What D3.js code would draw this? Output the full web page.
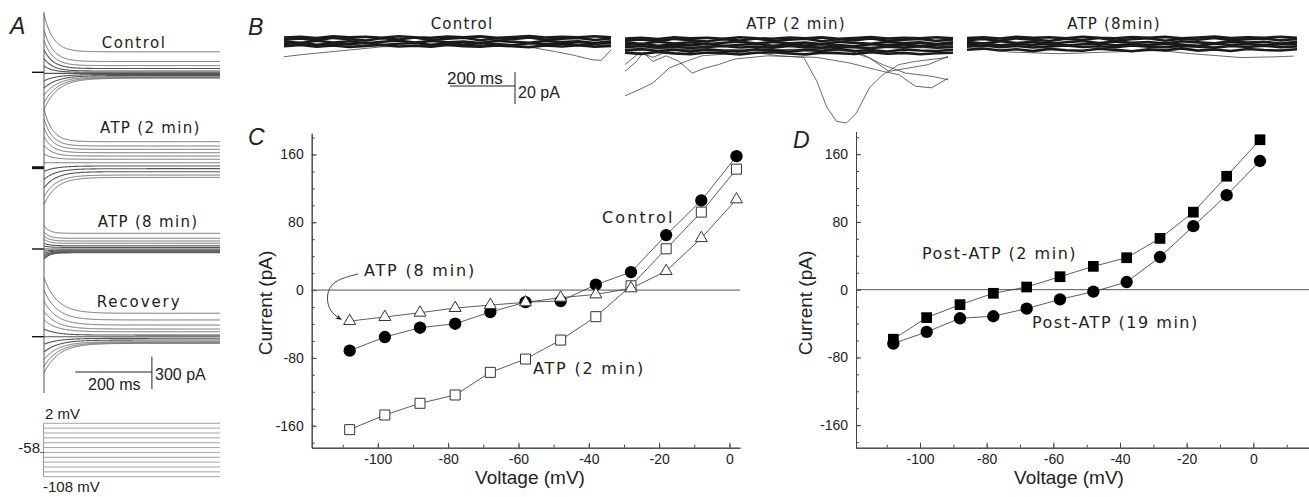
<!DOCTYPE html>
<html>
<head>
<meta charset="utf-8">
<script src="https://cdn.jsdelivr.net/npm/d3@7"></script>
<style>
  body { margin: 0; background: #fff; }
  svg { display: block; }
</style>
</head>
<body>
<svg id="fig" width="1309" height="497"></svg>
<script>
// ---------------- data ----------------
const voltages = [-108, -98, -88, -78, -68, -58, -48, -38, -28, -18, -8, 2];

// panel C (pA)
const controlI = [-71.5, -55.4, -44.4, -39.7, -25.9, -14.2, -13.0, 6.3, 21.2, 64.9, 105.7, 158.0];
const atp2I    = [-164.7, -147.4, -133.6, -123.8, -97.1, -81.4, -59.0, -31.4, 5.1, 48.7, 92.0, 142.7];
const atp8I    = [-36.6, -31.8, -26.7, -21.2, -17.7, -14.5, -9.0, -5.1, 2.0, 22.4, 61.3, 107.0];

// panel D (pA)
const post2I  = [-58.5, -33.0, -17.7, -4.3, 3.1, 15.3, 27.5, 37.7, 60.5, 91.5, 133.9, 177.0];
const post19I = [-63.6, -49.9, -33.8, -31.4, -22.4, -11.4, -2.4, 9.0, 38.5, 75.0, 111.5, 151.9];

// panel A : steady and peak currents (pA) for each step
const ctrlSteady = [-55, -48, -40, -30, -20, -10, 0, 12, 35, 62, 100, 190];
const ctrlPeak   = [-345, -280, -214, -146, -78, -10, 58, 128, 209, 294, 390, 538];
const atp2Steady = [-90, -68, -37, -9, 16, 46, 78, 108, 139, 170, 201, 241];
const atp2Peak   = [-340, -268, -187, -109, -34, 46, 128, 208, 289, 370, 451, 541];
const atp8Steady = [-35, -30, -25, -18, -10, 0, 15, 30, 53, 74, 99, 145];
const atp8Peak   = [-95, -78, -61, -42, -22, 0, 27, 54, 89, 122, 159, 217];
const recSteady  = [-62, -55, -46, -31, -15, 0, 15, 46, 71, 108, 155, 217];
const recPeak    = [-337, -275, -211, -141, -70, 0, 70, 156, 236, 328, 430, 547];

// panel B : band traces (pA every 50 ms)
const bandT = [0, 50, 100, 150, 200, 250, 300, 350, 400, 450, 500, 550, 600, 650, 700, 750, 800, 850, 900, 950, 1000];
const band1 = [1.5, 2.2, 1.0, 2.6, 1.8, 0.9, 2.4, 1.6, 2.8, 1.2, 2.0, 2.7, 1.1, 2.3, 1.7, 2.9, 1.4, 2.1, 2.6, 1.3, 2.2];
const band2 = [0.4, -0.6, 0.8, -0.3, 0.5, -0.8, 0.2, 0.9, -0.4, 0.6, -0.2, 0.3, -0.7, 0.8, 0.1, -0.5, 0.7, -0.1, 0.4, -0.6, 0.5];
const band3 = [-1.2, -0.5, -1.8, -0.9, -1.5, -0.4, -1.9, -1.1, -0.6, -1.7, -1.0, -1.6, -0.7, -1.3, -2.0, -0.8, -1.4, -0.9, -1.8, -1.1, -0.7];
const band4 = [-2.6, -1.9, -2.9, -2.2, -3.1, -2.4, -1.8, -2.8, -2.3, -3.0, -1.9, -2.6, -2.9, -2.1, -2.7, -3.2, -2.2, -2.8, -2.0, -2.9, -2.4];
const band5 = [2.8, 3.2, 2.5, 3.5, 2.9, 3.3, 2.6, 3.6, 3.0, 2.7, 3.4, 2.9, 3.5, 2.6, 3.1, 3.7, 2.8, 3.3, 3.0, 3.6, 2.9];
const band6 = [-4.5, -3.8, -5.0, -4.2, -5.4, -4.0, -4.8, -5.2, -3.9, -4.6, -5.5, -4.3, -4.9, -3.7, -5.1, -4.4, -5.3, -4.1, -4.7, -5.0, -4.2];
const band7 = [-6.0, -6.8, -5.6, -6.5, -7.0, -5.9, -6.3, -7.2, -6.1, -5.8, -6.6, -7.1, -6.0, -6.4, -6.9, -5.7, -6.7, -6.2, -7.0, -6.4, -6.1];

// panel B : deviating traces [ms, pA]
const ctrlDev = [[0, -9.2], [50, -8], [100, -7], [200, -5], [300, -3], [400, -2.5], [550, -2], [700, -2.5], [760, -3.5], [830, -6], [880, -8], [940, -11], [970, -11.5], [1000, -5]];
const atpDip  = [[0, -5], [200, -4], [400, -6], [470, -8], [545, -9], [585, -24], [615, -40], [645, -49], [675, -50], [705, -44], [745, -28], [785, -20], [835, -13.5], [885, -11.5], [985, -9]];
const atpDev1 = [[0, -33], [45, -29], [85, -25], [135, -15.6], [185, -11.5], [235, -8], [300, -7], [385, -5], [500, -4], [700, -3], [985, -3]];
const atpDev2 = [[0, -17.7], [35, -11.5], [55, -6], [85, -11.5], [125, -8], [165, -11.5], [205, -18.8], [245, -15.6], [285, -13.5], [335, -10], [435, -8], [585, -9], [685, -12.5], [785, -17.7], [835, -19.8], [885, -27], [935, -28], [985, -22]];
const atpDev3 = [[0, -13.5], [45, -6], [85, -9], [145, -4], [300, -5], [500, -4], [705, -5], [785, -13.5], [855, -18.8], [935, -20.8], [985, -23]];
const atpDev4 = [[0, -3], [300, -4], [600, -5], [685, -5], [745, -9.4], [805, -17.7], [865, -15.6], [925, -13.5], [985, -8.3]];
const atp8Dev = [[0, -2], [130, -6], [280, -7], [430, -6], [580, -5], [680, -7], [830, -9.4], [930, -9], [990, -8.5]];

const svg = d3.select("#fig");
const ink = "#222";

const letter = (t, x, y) => svg.append("text").attr("x", x).attr("y", y).text(t)
  .attr("font-family", "Liberation Sans").attr("font-style", "italic").attr("font-size", 23).attr("fill", ink);

// ---------------- panel A ----------------
letter("A", 10, 34);
const xA = d3.scaleLinear().domain([0, 460]).range([44, 220]);
const tSamples = d3.range(0, 461, 1);
const aGroups = [
  { zero: 72.3, steady: ctrlSteady, peak: ctrlPeak, tauUp: 24, tauDown: 36 },
  { zero: 167.7, steady: atp2Steady, peak: atp2Peak, tauUp: 22, tauDown: 32 },
  { zero: 249, steady: atp8Steady, peak: atp8Peak, tauUp: 14, tauDown: 14 },
  { zero: 336.7, steady: recSteady, peak: recPeak, tauUp: 34, tauDown: 38 }
];
aGroups.forEach((gr, gi) => {
  const yA = d3.scaleLinear().domain([0, 100]).range([gr.zero, gr.zero - 10.8]);
  const line = d3.line().x(d => xA(d[0])).y(d => yA(d[1]));
  gr.steady.forEach((ss, i) => {
    const pk = gr.peak[i];
    const tau = pk < ss ? gr.tauDown : gr.tauUp;
    const pts = tSamples.map(t => [t, ss + (pk - ss) * Math.exp(-t / tau)]);
    svg.append("path").attr("d", line(pts))
      .attr("fill", "none")
      .attr("stroke", Math.abs(ss) < 40 ? "#555" : "#333")
      .attr("stroke-width", Math.abs(ss) < 40 ? 1.1 : 0.7);
  });
  svg.append("line")
    .attr("x1", 32).attr("x2", 44)
    .attr("y1", yA(0)).attr("y2", yA(0))
    .attr("stroke", "#111").attr("stroke-width", gi === 1 ? 3 : 1.4);
});
svg.append("line").attr("x1", 44).attr("x2", 44).attr("y1", 12).attr("y2", 393)
  .attr("stroke", "#555").attr("stroke-width", 1);

const aText = (t, x, y, ls) => svg.append("text").attr("x", x).attr("y", y).text(t)
  .attr("font-family", "DejaVu Sans").attr("font-size", 15).attr("letter-spacing", ls).attr("fill", ink);
aText("Control", 101.7, 48, 1.5);
aText("ATP (2 min)", 100, 133, 1.3);
aText("ATP (8 min)", 97.7, 226.5, 1.3);
aText("Recovery", 96.7, 307, 1.9);

// scale bar A
const yBarA = d3.scaleLinear().domain([0, 300]).range([389, 356.6]);
svg.append("line").attr("x1", xA(82)).attr("x2", xA(282)).attr("y1", 372).attr("y2", 372).attr("stroke", ink);
svg.append("line").attr("x1", xA(282)).attr("x2", xA(282)).attr("y1", yBarA(0)).attr("y2", yBarA(300)).attr("stroke", ink);
const sText = (t, x, y, size, anchor) => svg.append("text").attr("x", x).attr("y", y).text(t)
  .attr("font-family", "Liberation Sans").attr("font-size", size).attr("text-anchor", anchor || "start").attr("fill", ink);
sText("200 ms", 88, 390, 16);
sText("300 pA", 155, 380, 16);

// voltage protocol
const vP = d3.scaleLinear().domain([-108, 2]).range([476.7, 423.3]);
voltages.forEach(v => {
  svg.append("line").attr("x1", 44).attr("x2", 220).attr("y1", vP(v)).attr("y2", vP(v))
    .attr("stroke", "#999").attr("stroke-width", 0.9);
});
svg.append("line").attr("x1", 43.5).attr("x2", 43.5).attr("y1", vP(2)).attr("y2", vP(-108)).attr("stroke", "#999");
svg.append("line").attr("x1", 40).attr("x2", 44).attr("y1", vP(-58)).attr("y2", vP(-58)).attr("stroke", "#666");
sText("2 mV", 45, 419, 15);
sText("-58", 40, 453, 15, "end");
sText("-108 mV", 43, 492, 15);

// ---------------- panel B ----------------
letter("B", 248, 35);
const bPanels = [
  { x0: 284, x1: 611, base: 42, title: "Control", cx: 462, bands: [band1, band2, band3, band4, band5], devs: [ctrlDev] },
  { x0: 625, x1: 953, base: 43, title: "ATP (2 min)", cx: 796, bands: [band1, band2, band3, band4, band5, band6, band7], devs: [atpDip, atpDev1, atpDev2, atpDev3, atpDev4] },
  { x0: 967, x1: 1297, base: 42.5, title: "ATP (8min)", cx: 1114, bands: [band1, band2, band3, band4, band5, band6], devs: [atp8Dev] }
];
bPanels.forEach(p => {
  const xB = d3.scaleLinear().domain([0, 1000]).range([p.x0, p.x1]);
  const yB = d3.scaleLinear().domain([0, 20]).range([p.base, p.base - 32]);
  const line = d3.line().x(d => xB(d[0])).y(d => yB(d[1]));
  p.devs.forEach(dv => {
    svg.append("path").attr("d", line(dv)).attr("fill", "none").attr("stroke", "#444").attr("stroke-width", 0.8);
  });
  p.bands.forEach(b => {
    svg.append("path").attr("d", line(bandT.map((t, i) => [t, b[i]])))
      .attr("fill", "none").attr("stroke", "#1a1a1a").attr("stroke-width", 2.6);
  });
  svg.append("text").attr("x", p.cx).attr("y", 29).attr("text-anchor", "middle").text(p.title)
    .attr("font-family", "DejaVu Sans").attr("font-size", 15).attr("letter-spacing", 1.2).attr("fill", ink);
});
// scale bar B
svg.append("line").attr("x1", 450).attr("x2", 515).attr("y1", 86).attr("y2", 86).attr("stroke", ink);
svg.append("line").attr("x1", 515).attr("x2", 515).attr("y1", 72).attr("y2", 104).attr("stroke", ink);
sText("200 ms", 447, 84, 17);
sText("20 pA", 518, 97.5, 16);

// ---------------- panels C and D ----------------
svg.append("defs").append("marker")
  .attr("id", "arrow").attr("viewBox", "0 0 10 10").attr("refX", 9).attr("refY", 5)
  .attr("markerWidth", 7).attr("markerHeight", 7).attr("orient", "auto")
  .append("path").attr("d", "M0,1 L10,5 L0,9 L3,5 Z").attr("fill", ink);

function ivPanel(o) {
  const x = d3.scaleLinear().domain(o.xDomain).range(o.xRange);
  const y = d3.scaleLinear().domain(o.yDomain).range([447.7, o.yTop]);
  const g = svg.append("g");
  const styleAxis = a => {
    a.selectAll("text").attr("font-family", "Liberation Sans").attr("font-size", 14).attr("fill", ink);
    a.selectAll("line").attr("stroke", "#444");
    a.select(".domain").attr("stroke", "#444");
  };
  const fmt = d => String(d);
  // minor ticks
  g.append("g").attr("transform", `translate(0,${y.range()[0]})`)
    .call(d3.axisBottom(x).tickValues(d3.range(-110, 11, 10).filter(v => v >= o.xDomain[0] && v <= o.xDomain[1])).tickSize(-3).tickSizeOuter(0).tickFormat(""))
    .call(styleAxis);
  g.append("g").attr("transform", `translate(${x.range()[0]},0)`)
    .call(d3.axisLeft(y).tickValues(d3.range(-180, 181, 20)).tickSize(-3).tickSizeOuter(0).tickFormat(""))
    .call(styleAxis);
  // major ticks
  g.append("g").attr("transform", `translate(0,${y.range()[0]})`)
    .call(d3.axisBottom(x).tickValues([-100, -80, -60, -40, -20, 0]).tickSize(-5).tickSizeOuter(0).tickPadding(6).tickFormat(fmt))
    .call(styleAxis);
  g.append("g").attr("transform", `translate(${x.range()[0]},0)`)
    .call(d3.axisLeft(y).tickValues([-160, -80, 0, 80, 160]).tickSize(-5).tickSizeOuter(0).tickPadding(8).tickFormat(fmt))
    .call(styleAxis);
  // zero line
  g.append("line").attr("x1", x.range()[0]).attr("x2", x.range()[1]).attr("y1", y(0)).attr("y2", y(0))
    .attr("stroke", "#555").attr("stroke-width", 1);
  // axis titles
  g.append("text").attr("transform", `translate(${o.yLabelX},303) rotate(-90)`)
    .attr("text-anchor", "middle").attr("dominant-baseline", "central").text("Current (pA)")
    .attr("font-family", "Liberation Sans").attr("font-size", 19).attr("fill", ink);
  g.append("text").attr("x", o.xLabelX).attr("y", 483.5).attr("text-anchor", "middle").text("Voltage (mV)")
    .attr("font-family", "Liberation Sans").attr("font-size", 19).attr("fill", ink);
  letter(o.letter, o.letterX, o.letterY);
  return { g, x, y };
}

function drawSeries(p, vals) {
  const pts = voltages.map((v, i) => [v, vals[i]]);
  p.g.append("path").attr("d", d3.line().x(d => p.x(d[0])).y(d => p.y(d[1]))(pts))
    .attr("fill", "none").attr("stroke", "#333").attr("stroke-width", 0.8);
  return pts;
}
function drawMarkers(p, pts, kind) {
  const sel = p.g.append("g").selectAll("path").data(pts).join("path")
    .attr("transform", d => `translate(${p.x(d[0])},${p.y(d[1])})`);
  if (kind === "circle") sel.attr("d", d3.symbol(d3.symbolCircle, 120)()).attr("fill", "#000");
  if (kind === "square") sel.attr("d", d3.symbol(d3.symbolSquare, 100)()).attr("fill", "#fff").attr("stroke", "#333").attr("stroke-width", 1);
  if (kind === "fsquare") sel.attr("d", d3.symbol(d3.symbolSquare, 115)()).attr("fill", "#000");
  if (kind === "triangle") sel.attr("d", d3.symbol(d3.symbolTriangle, 62)()).attr("fill", "#fff").attr("stroke", "#333").attr("stroke-width", 1);
}

const pC = ivPanel({ xDomain: [-118.8, 3.0], xRange: [311.7, 740], yDomain: [-186, 185], yTop: 133.3,
  yLabelX: 265, xLabelX: 530, letter: "C", letterX: 248, letterY: 145 });
const cCtrl = drawSeries(pC, controlI);
const cA2 = drawSeries(pC, atp2I);
const cA8 = drawSeries(pC, atp8I);
drawMarkers(pC, cCtrl, "circle");
drawMarkers(pC, cA2, "square");
drawMarkers(pC, cA8, "triangle");

const labC = (t, x, y, ls) => pC.g.append("text").attr("x", x).attr("y", y).text(t)
  .attr("font-family", "DejaVu Sans").attr("font-size", 16).attr("letter-spacing", ls).attr("fill", ink);
labC("Control", 602, 222.5, 2.1);
labC("ATP (8 min)", 364, 275.8, 1.8);
labC("ATP (2 min)", 533, 374, 1.8);

// curved arrow from "ATP (8 min)"
const arrowPts = [[-105.6, 19], [-112.5, 8], [-114.3, -12], [-112.8, -27], [-110.4, -34.5]];
pC.g.append("path")
  .attr("d", d3.line().x(d => pC.x(d[0])).y(d => pC.y(d[1])).curve(d3.curveNatural)(arrowPts))
  .attr("fill", "none").attr("stroke", "#333").attr("stroke-width", 0.9).attr("marker-end", "url(#arrow)");

const pD = ivPanel({ xDomain: [-119.2, 16.7], xRange: [856, 1309], yDomain: [-186.6, 186.5], yTop: 131.7,
  yLabelX: 805, xLabelX: 1069, letter: "D", letterX: 793, letterY: 148 });
const d19 = drawSeries(pD, post19I);
const d2 = drawSeries(pD, post2I);
drawMarkers(pD, d19, "circle");
drawMarkers(pD, d2, "fsquare");
const labD = (t, x, y, ls) => pD.g.append("text").attr("x", x).attr("y", y).text(t)
  .attr("font-family", "DejaVu Sans").attr("font-size", 16).attr("letter-spacing", ls).attr("fill", ink);
labD("Post-ATP (2 min)", 922, 259, 1.5);
labD("Post-ATP (19 min)", 1032, 327.5, 1.5);
</script>
</body>
</html>
